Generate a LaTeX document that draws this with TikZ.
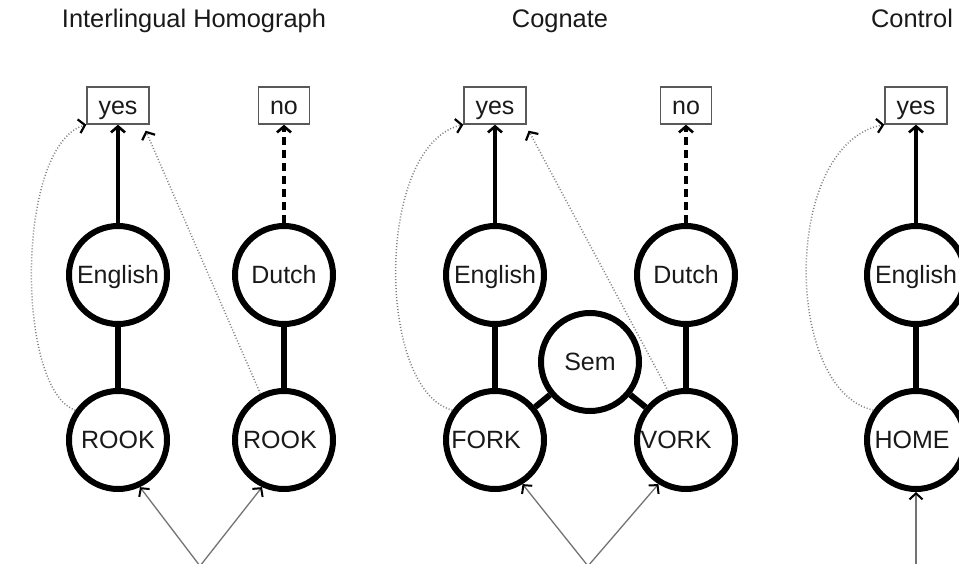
\documentclass[tikz,border=0pt]{standalone}
\usepackage{fontspec}
\setmainfont{Liberation Sans}
\usetikzlibrary{arrows.meta,calc}

\begin{document}
\begin{tikzpicture}[x=1pt,y=-1pt,
  every node/.style={text=black!90, font=\fontsize{25}{30}\selectfont},
  title/.style={anchor=base, font=\fontsize{25.4}{30}\selectfont},
  unit/.style={circle, draw=black, line width=6pt, minimum size=98pt,
    inner sep=0pt, text height=17.9pt, text depth=0pt},
  resp/.style={draw=black!65, line width=1.4pt, minimum height=37pt,
    inner xsep=11.5pt, inner ysep=0pt, text height=17.9pt, text depth=0pt},
  link/.style={draw=black, line width=6pt},
  decide/.style={-{Straight Barb[length=6pt,width=14pt,line width=2.6pt]},
    draw=black, line width=3.2pt},
  nodecide/.style={decide, dash pattern=on 8pt off 5pt},
  % dotted check path; its barb is drawn separately as a solid tip
  check/.style={draw=black!50, line width=1.5pt, dash pattern=on 1pt off 2pt},
  barb/.style={-{Straight Barb[length=6pt,width=14pt,line width=2.2pt]},
    draw=black, solid, line width=0.1pt},
  feed/.style={-{Straight Barb[length=6pt,width=13pt,line width=2pt,black]},
    draw=black!55, line width=1.3pt}
]
\useasboundingbox (0,0) rectangle (959,564);
\clip (0,0) rectangle (959,564);

% ---------- titles ----------
\node[title] (tA) at (194,28) {Interlingual Homograph};
\node[title] (tB) at (560,28) {Cognate};
\node[title] (tC) at (912,28) {Control};

% ---------- interlingual homograph ----------
\node[resp] (yesA) at (118,105.5) {yes};
\node[resp] (noA)  at (284,105.5) {no};
\node[unit] (engA)  at (118,275) {English};
\node[unit] (dutA)  at (284,275) {Dutch};
\node[unit] (rookA) at (118,440) {ROOK};
\node[unit] (rookB) at (284,440) {\makebox[0pt]{ROOK\hspace{8pt}}};

\draw[link] (engA) -- (rookA);
\draw[link] (dutA) -- (rookB);
\draw[decide] (engA) -- (yesA);
\draw[nodecide] (dutA) -- (noA);

\coordinate (hitA1) at (yesA.south west);
\coordinate (hitA2) at ($(yesA.south east)+(-4,6)$);
\draw[check] (rookA.145) .. controls (15,390) and (15,140) .. (hitA1);
\draw[barb] ($(hitA1)!1pt!(15,140)$) -- (hitA1);
\draw[check] (rookB.117) -- (hitA2);
\draw[barb] ($(hitA2)!1pt!(rookB.117)$) -- (hitA2);

\coordinate (srcA) at (200,566);
\draw[feed] (srcA) -- (rookA.-65);
\draw[feed] (srcA) -- (rookB.-115);

% ---------- cognate ----------
\node[resp] (yesC) at (495,105.5) {yes};
\node[resp] (noC)  at (686,105.5) {no};
\node[unit] (engC) at (495,275) {English};
\node[unit] (dutC) at (686,275) {Dutch};
\node[unit] (fork) at (495,440) {\makebox[0pt]{FORK\hspace{18pt}}};
\node[unit] (vork) at (686,440) {\makebox[0pt]{VORK\hspace{20pt}}};
\node[unit] (sem)  at (590,362) {Sem};

\draw[link] (engC) -- (fork);
\draw[link] (dutC) -- (vork);
\draw[link] (sem) -- (fork);
\draw[link] (sem) -- (vork);
\draw[decide] (engC) -- (yesC);
\draw[nodecide] (dutC) -- (noC);

\coordinate (hitC1) at (yesC.south west);
\coordinate (hitC2) at ($(yesC.south east)+(2,6)$);
\draw[check] (fork.145) .. controls (375,390) and (375,140) .. (hitC1);
\draw[barb] ($(hitC1)!1pt!(375,140)$) -- (hitC1);
\draw[check] (vork.110) -- (hitC2);
\draw[barb] ($(hitC2)!1pt!(vork.110)$) -- (hitC2);

\coordinate (srcC) at (588,566);
\draw[feed] (srcC) -- (fork.-58);
\draw[feed] (srcC) -- (vork.-122);

% ---------- control ----------
\node[resp] (yesE) at (916,105.5) {yes};
\node[unit] (engE) at (916,275) {English};
\node[unit] (home) at (916,440) {\makebox[0pt]{HOME\hspace{8pt}}};

\draw[link] (engE) -- (home);
\draw[decide] (engE) -- (yesE);

\coordinate (hitE1) at (yesE.south west);
\draw[check] (home.145) .. controls (782,390) and (782,140) .. (hitE1);
\draw[barb] ($(hitE1)!1pt!(782,140)$) -- (hitE1);

\coordinate (srcE) at (916,566);
\draw[feed] (srcE) -- (home);
\end{tikzpicture}
\end{document}
